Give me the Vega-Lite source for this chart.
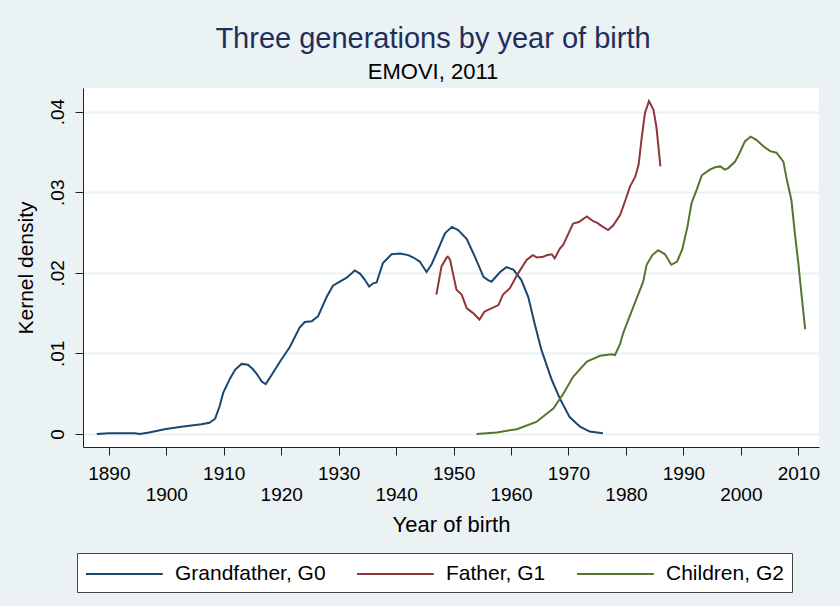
{
  "$schema": "https://vega.github.io/schema/vega-lite/v6.json",
  "autosize": {"type": "none"},
  "width": 736,
  "height": 359,
  "padding": {"left": 83, "top": 88, "right": 21, "bottom": 159},
  "background": "#EAF2F3",
  "config": {
    "view": {"fill": "white", "stroke": null},
    "font": "Liberation Sans"
  },
  "title": {
    "text": "Three generations by year of birth",
    "subtitle": "EMOVI, 2011",
    "anchor": "middle",
    "dx": -18,
    "fontSize": 29,
    "fontWeight": "normal",
    "color": "#1F2F5C",
    "subtitleFontSize": 22,
    "subtitleColor": "black",
    "subtitlePadding": 8,
    "offset": 5
  },
  "data": {
    "values": [
      {"g": "Grandfather, G0", "year": 1887.9, "d": 0.0},
      {"g": "Grandfather, G0", "year": 1890.0, "d": 0.0001},
      {"g": "Grandfather, G0", "year": 1893.0, "d": 0.0001},
      {"g": "Grandfather, G0", "year": 1894.5, "d": 0.0001},
      {"g": "Grandfather, G0", "year": 1895.4, "d": 0.0},
      {"g": "Grandfather, G0", "year": 1897.0, "d": 0.0002},
      {"g": "Grandfather, G0", "year": 1899.7, "d": 0.0006},
      {"g": "Grandfather, G0", "year": 1902.6, "d": 0.0009},
      {"g": "Grandfather, G0", "year": 1906.1, "d": 0.0012},
      {"g": "Grandfather, G0", "year": 1907.5, "d": 0.0014},
      {"g": "Grandfather, G0", "year": 1908.5, "d": 0.0019},
      {"g": "Grandfather, G0", "year": 1909.3, "d": 0.0035},
      {"g": "Grandfather, G0", "year": 1909.9, "d": 0.0051},
      {"g": "Grandfather, G0", "year": 1911.1, "d": 0.0069},
      {"g": "Grandfather, G0", "year": 1912.0, "d": 0.008},
      {"g": "Grandfather, G0", "year": 1913.1, "d": 0.0087},
      {"g": "Grandfather, G0", "year": 1914.2, "d": 0.0086},
      {"g": "Grandfather, G0", "year": 1915.0, "d": 0.0081},
      {"g": "Grandfather, G0", "year": 1915.7, "d": 0.0075},
      {"g": "Grandfather, G0", "year": 1916.6, "d": 0.0065},
      {"g": "Grandfather, G0", "year": 1917.3, "d": 0.0062},
      {"g": "Grandfather, G0", "year": 1918.3, "d": 0.0073},
      {"g": "Grandfather, G0", "year": 1919.8, "d": 0.009},
      {"g": "Grandfather, G0", "year": 1921.5, "d": 0.0108},
      {"g": "Grandfather, G0", "year": 1923.2, "d": 0.0132},
      {"g": "Grandfather, G0", "year": 1924.1, "d": 0.0139},
      {"g": "Grandfather, G0", "year": 1925.3, "d": 0.014},
      {"g": "Grandfather, G0", "year": 1926.4, "d": 0.0146},
      {"g": "Grandfather, G0", "year": 1927.9, "d": 0.017},
      {"g": "Grandfather, G0", "year": 1929.0, "d": 0.0184},
      {"g": "Grandfather, G0", "year": 1930.2, "d": 0.0189},
      {"g": "Grandfather, G0", "year": 1931.4, "d": 0.0194},
      {"g": "Grandfather, G0", "year": 1932.8, "d": 0.0203},
      {"g": "Grandfather, G0", "year": 1933.7, "d": 0.0199},
      {"g": "Grandfather, G0", "year": 1934.5, "d": 0.0192},
      {"g": "Grandfather, G0", "year": 1935.3, "d": 0.0183},
      {"g": "Grandfather, G0", "year": 1936.0, "d": 0.0187},
      {"g": "Grandfather, G0", "year": 1936.6, "d": 0.0188},
      {"g": "Grandfather, G0", "year": 1937.7, "d": 0.0212},
      {"g": "Grandfather, G0", "year": 1939.2, "d": 0.0223},
      {"g": "Grandfather, G0", "year": 1940.7, "d": 0.0224},
      {"g": "Grandfather, G0", "year": 1942.1, "d": 0.0222},
      {"g": "Grandfather, G0", "year": 1943.0, "d": 0.0219},
      {"g": "Grandfather, G0", "year": 1944.1, "d": 0.0214},
      {"g": "Grandfather, G0", "year": 1945.3, "d": 0.0201},
      {"g": "Grandfather, G0", "year": 1946.2, "d": 0.0211},
      {"g": "Grandfather, G0", "year": 1947.0, "d": 0.0224},
      {"g": "Grandfather, G0", "year": 1948.5, "d": 0.0249},
      {"g": "Grandfather, G0", "year": 1949.7, "d": 0.0257},
      {"g": "Grandfather, G0", "year": 1950.8, "d": 0.0253},
      {"g": "Grandfather, G0", "year": 1952.3, "d": 0.0242},
      {"g": "Grandfather, G0", "year": 1953.7, "d": 0.022},
      {"g": "Grandfather, G0", "year": 1955.2, "d": 0.0195},
      {"g": "Grandfather, G0", "year": 1956.0, "d": 0.0191},
      {"g": "Grandfather, G0", "year": 1956.6, "d": 0.0189},
      {"g": "Grandfather, G0", "year": 1958.1, "d": 0.0201},
      {"g": "Grandfather, G0", "year": 1959.2, "d": 0.0207},
      {"g": "Grandfather, G0", "year": 1960.4, "d": 0.0204},
      {"g": "Grandfather, G0", "year": 1961.8, "d": 0.0191},
      {"g": "Grandfather, G0", "year": 1963.0, "d": 0.017},
      {"g": "Grandfather, G0", "year": 1964.1, "d": 0.0137},
      {"g": "Grandfather, G0", "year": 1965.3, "d": 0.0104},
      {"g": "Grandfather, G0", "year": 1967.1, "d": 0.0067},
      {"g": "Grandfather, G0", "year": 1968.5, "d": 0.0044},
      {"g": "Grandfather, G0", "year": 1970.2, "d": 0.0021},
      {"g": "Grandfather, G0", "year": 1972.0, "d": 0.0009},
      {"g": "Grandfather, G0", "year": 1973.7, "d": 0.0003},
      {"g": "Grandfather, G0", "year": 1976.0, "d": 0.0001},
      {"g": "Father, G1", "year": 1947.0, "d": 0.0173},
      {"g": "Father, G1", "year": 1947.9, "d": 0.0208},
      {"g": "Father, G1", "year": 1948.8, "d": 0.0219},
      {"g": "Father, G1", "year": 1949.0, "d": 0.022},
      {"g": "Father, G1", "year": 1949.4, "d": 0.0216},
      {"g": "Father, G1", "year": 1949.9, "d": 0.0199},
      {"g": "Father, G1", "year": 1950.5, "d": 0.0179},
      {"g": "Father, G1", "year": 1951.4, "d": 0.0173},
      {"g": "Father, G1", "year": 1952.3, "d": 0.0156},
      {"g": "Father, G1", "year": 1953.4, "d": 0.015},
      {"g": "Father, G1", "year": 1954.5, "d": 0.0142},
      {"g": "Father, G1", "year": 1955.4, "d": 0.0152},
      {"g": "Father, G1", "year": 1956.0, "d": 0.0154},
      {"g": "Father, G1", "year": 1956.6, "d": 0.0156},
      {"g": "Father, G1", "year": 1957.8, "d": 0.016},
      {"g": "Father, G1", "year": 1958.6, "d": 0.0173},
      {"g": "Father, G1", "year": 1959.8, "d": 0.0181},
      {"g": "Father, G1", "year": 1961.2, "d": 0.0199},
      {"g": "Father, G1", "year": 1962.7, "d": 0.0216},
      {"g": "Father, G1", "year": 1963.8, "d": 0.0222},
      {"g": "Father, G1", "year": 1964.5, "d": 0.0219},
      {"g": "Father, G1", "year": 1965.6, "d": 0.022},
      {"g": "Father, G1", "year": 1966.3, "d": 0.0222},
      {"g": "Father, G1", "year": 1967.1, "d": 0.0223},
      {"g": "Father, G1", "year": 1967.6, "d": 0.0218},
      {"g": "Father, G1", "year": 1968.5, "d": 0.023},
      {"g": "Father, G1", "year": 1969.1, "d": 0.0235},
      {"g": "Father, G1", "year": 1970.0, "d": 0.0249},
      {"g": "Father, G1", "year": 1970.8, "d": 0.0261},
      {"g": "Father, G1", "year": 1971.8, "d": 0.0263},
      {"g": "Father, G1", "year": 1973.2, "d": 0.027},
      {"g": "Father, G1", "year": 1974.3, "d": 0.0264},
      {"g": "Father, G1", "year": 1975.0, "d": 0.0262},
      {"g": "Father, G1", "year": 1975.8, "d": 0.0258},
      {"g": "Father, G1", "year": 1976.9, "d": 0.0253},
      {"g": "Father, G1", "year": 1977.8, "d": 0.0259},
      {"g": "Father, G1", "year": 1979.0, "d": 0.0272},
      {"g": "Father, G1", "year": 1979.9, "d": 0.029},
      {"g": "Father, G1", "year": 1980.7, "d": 0.0307},
      {"g": "Father, G1", "year": 1981.6, "d": 0.0319},
      {"g": "Father, G1", "year": 1982.2, "d": 0.0334},
      {"g": "Father, G1", "year": 1982.7, "d": 0.0365},
      {"g": "Father, G1", "year": 1983.3, "d": 0.0398},
      {"g": "Father, G1", "year": 1984.0, "d": 0.0413},
      {"g": "Father, G1", "year": 1984.8, "d": 0.0402},
      {"g": "Father, G1", "year": 1985.3, "d": 0.0381},
      {"g": "Father, G1", "year": 1986.0, "d": 0.0332},
      {"g": "Children, G2", "year": 1954.0, "d": 0.0},
      {"g": "Children, G2", "year": 1957.5, "d": 0.0002},
      {"g": "Children, G2", "year": 1961.0, "d": 0.0006},
      {"g": "Children, G2", "year": 1964.4, "d": 0.0015},
      {"g": "Children, G2", "year": 1967.4, "d": 0.0032},
      {"g": "Children, G2", "year": 1969.1, "d": 0.005},
      {"g": "Children, G2", "year": 1970.8, "d": 0.0071},
      {"g": "Children, G2", "year": 1973.2, "d": 0.009},
      {"g": "Children, G2", "year": 1975.5, "d": 0.0097},
      {"g": "Children, G2", "year": 1977.5, "d": 0.0099},
      {"g": "Children, G2", "year": 1978.1, "d": 0.0098},
      {"g": "Children, G2", "year": 1979.0, "d": 0.0112},
      {"g": "Children, G2", "year": 1979.5, "d": 0.0125},
      {"g": "Children, G2", "year": 1981.3, "d": 0.0158},
      {"g": "Children, G2", "year": 1983.0, "d": 0.0189},
      {"g": "Children, G2", "year": 1983.6, "d": 0.021},
      {"g": "Children, G2", "year": 1984.6, "d": 0.0222},
      {"g": "Children, G2", "year": 1985.6, "d": 0.0228},
      {"g": "Children, G2", "year": 1986.8, "d": 0.0223},
      {"g": "Children, G2", "year": 1987.9, "d": 0.021},
      {"g": "Children, G2", "year": 1988.9, "d": 0.0214},
      {"g": "Children, G2", "year": 1989.8, "d": 0.0229},
      {"g": "Children, G2", "year": 1990.7, "d": 0.0257},
      {"g": "Children, G2", "year": 1991.4, "d": 0.0286},
      {"g": "Children, G2", "year": 1992.3, "d": 0.0303},
      {"g": "Children, G2", "year": 1993.2, "d": 0.0321},
      {"g": "Children, G2", "year": 1994.6, "d": 0.0328},
      {"g": "Children, G2", "year": 1995.5, "d": 0.0331},
      {"g": "Children, G2", "year": 1996.4, "d": 0.0332},
      {"g": "Children, G2", "year": 1997.2, "d": 0.0328},
      {"g": "Children, G2", "year": 1997.8, "d": 0.033},
      {"g": "Children, G2", "year": 1999.0, "d": 0.0338},
      {"g": "Children, G2", "year": 1999.8, "d": 0.0349},
      {"g": "Children, G2", "year": 2000.7, "d": 0.0363},
      {"g": "Children, G2", "year": 2001.7, "d": 0.0369},
      {"g": "Children, G2", "year": 2002.7, "d": 0.0365},
      {"g": "Children, G2", "year": 2003.9, "d": 0.0357},
      {"g": "Children, G2", "year": 2005.1, "d": 0.0351},
      {"g": "Children, G2", "year": 2006.2, "d": 0.0349},
      {"g": "Children, G2", "year": 2007.4, "d": 0.0338},
      {"g": "Children, G2", "year": 2007.9, "d": 0.0319},
      {"g": "Children, G2", "year": 2008.8, "d": 0.029},
      {"g": "Children, G2", "year": 2009.4, "d": 0.0249},
      {"g": "Children, G2", "year": 2010.0, "d": 0.0212},
      {"g": "Children, G2", "year": 2010.6, "d": 0.017},
      {"g": "Children, G2", "year": 2011.2, "d": 0.013}
    ]
  },
  "mark": {"type": "line", "strokeWidth": 2},
  "encoding": {
    "x": {
      "field": "year",
      "type": "quantitative",
      "scale": {"domain": [1885.5, 2013.6], "nice": false, "zero": false},
      "axis": {
        "title": "Year of birth",
        "values": [1890, 1900, 1910, 1920, 1930, 1940, 1950, 1960, 1970, 1980, 1990, 2000, 2010],
        "labelExpr": "(datum.value - 1890) % 20 == 0 ? datum.label : ['', datum.label]",
        "format": "d",
        "grid": false,
        "labelFontSize": 19,
        "labelLineHeight": 21,
        "labelColor": "black",
        "labelPadding": 9,
        "labelOverlap": false,
        "labelFlush": false,
        "tickSize": 8,
        "tickColor": "#222",
        "domainColor": "#222",
        "titleFontSize": 22,
        "titleFontWeight": "normal",
        "titleColor": "black",
        "titlePadding": 10
      }
    },
    "y": {
      "field": "d",
      "type": "quantitative",
      "scale": {"domain": [-0.00161, 0.04293], "nice": false, "zero": false},
      "axis": {
        "title": "Kernel density",
        "values": [0, 0.01, 0.02, 0.03, 0.04],
        "labelExpr": "datum.value == 0 ? '0' : replace(format(datum.value, '.2f'), '0.', '.')",
        "labelAngle": -90,
        "labelAlign": "center",
        "labelBaseline": "bottom",
        "labelFontSize": 19,
        "labelColor": "black",
        "labelPadding": 8,
        "labelOverlap": false,
        "labelFlush": false,
        "tickSize": 8,
        "tickColor": "#222",
        "domainColor": "#222",
        "gridColor": "#EAF2F3",
        "gridWidth": 2,
        "titleFontSize": 21,
        "titleFontWeight": "normal",
        "titleColor": "black",
        "titlePadding": 12
      }
    },
    "color": {
      "field": "g",
      "type": "nominal",
      "scale": {
        "domain": ["Grandfather, G0", "Father, G1", "Children, G2"],
        "range": ["#1A476F", "#90353B", "#55752F"]
      },
      "legend": {
        "title": null,
        "orient": "none",
        "legendX": -6,
        "legendY": 465,
        "direction": "horizontal",
        "symbolType": "M-1,0H5.4",
        "symbolSize": 576,
        "symbolStrokeWidth": 2,
        "symbolFillColor": "transparent",
        "labelFontSize": 21,
        "labelColor": "black",
        "labelOffset": 64,
        "columnPadding": 27,
        "fillColor": "white",
        "strokeColor": "#444",
        "padding": 8
      }
    }
  }
}
